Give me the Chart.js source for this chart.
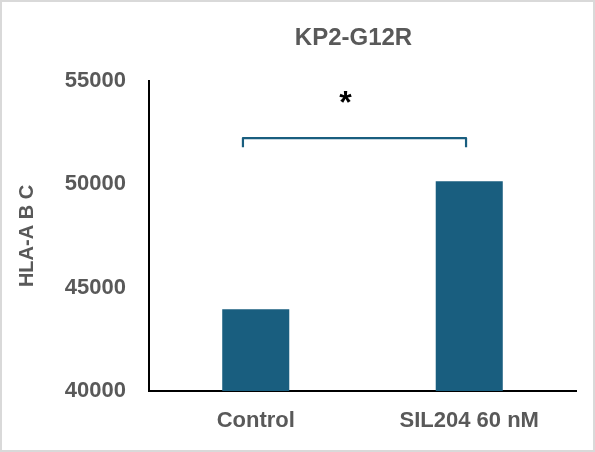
<!DOCTYPE html>
<html>
<head>
<meta charset="utf-8">
<script src="https://cdn.jsdelivr.net/npm/chart.js@4.4.1/dist/chart.umd.min.js"></script>
<style>
  html, body { margin: 0; padding: 0; background: #fff; }
  #chart { display: block; outline: 2px solid #d9d9d9; outline-offset: -2px; }
</style>
</head>
<body>
<canvas id="chart" width="595" height="452"></canvas>
<script>
// data
const categories = ['Control', 'SIL204 60 nM'];
const hlaValues = [43950, 50150];
const yTicks = [40000, 45000, 50000, 55000];
const chartTitle = 'KP2-G12R';

// significance bracket (category index range + level in data units)
const sigFrom = -0.06;
const sigTo = 0.985;
const sigTop = 52240;
const sigBottom = 51800;
const sigLabel = '*';
const sigLabelX = 0.42;
const sigLabelY = 54180;

const grey = '#595959';
const barColor = '#195e7f';
const fontFam = '"Liberation Sans", Arial, sans-serif';

// title (centred over the plot, like the original) + bracket + asterisk
const extrasPlugin = {
    id: 'extras',
    afterDatasetsDraw(chart) {
        const ctx = chart.ctx;
        const x = chart.scales.x;
        const y = chart.scales.y;
        const area = chart.chartArea;
        ctx.save();

        ctx.fillStyle = grey;
        ctx.font = 'bold 24px ' + fontFam;
        ctx.textAlign = 'center';
        ctx.textBaseline = 'middle';
        ctx.fillText(chartTitle, (area.left + area.right) / 2 - 9, 38);

        const x1 = x.getPixelForValue(sigFrom);
        const x2 = x.getPixelForValue(sigTo);
        const yt = y.getPixelForValue(sigTop);
        const yb = y.getPixelForValue(sigBottom);
        ctx.strokeStyle = barColor;
        ctx.lineWidth = 2.2;
        ctx.lineJoin = 'round';
        ctx.beginPath();
        ctx.moveTo(x1, yb);
        ctx.lineTo(x1, yt);
        ctx.lineTo(x2, yt);
        ctx.lineTo(x2, yb);
        ctx.stroke();

        ctx.fillStyle = '#000';
        ctx.font = 'bold 32px ' + fontFam;
        ctx.fillText(sigLabel, x.getPixelForValue(sigLabelX), y.getPixelForValue(sigLabelY) + 6);
        ctx.restore();
    }
};

const ctx = document.getElementById('chart').getContext('2d');
const chart = new Chart(ctx, {
    type: 'bar',
    data: {
        labels: categories,
        datasets: [{
            label: 'HLA-A B C',
            data: hlaValues,
            backgroundColor: barColor,
            borderWidth: 0,
            categoryPercentage: 0.314,
            barPercentage: 1
        }]
    },
    options: {
        responsive: false,
        animation: false,
        layout: { padding: { left: 0, right: 19, top: 81, bottom: 0 } },
        plugins: {
            legend: { display: false },
            tooltip: { enabled: false },
            title: { display: false }
        },
        scales: {
            x: {
                afterFit(scale) { scale.height = 61; },
                grid: { display: false, drawTicks: false },
                border: { display: true, color: '#000', width: 2 },
                ticks: {
                    color: grey,
                    padding: 17,
                    font: { family: fontFam, size: 22, weight: 'bold' }
                }
            },
            y: {
                min: yTicks[0],
                max: yTicks[yTicks.length - 1],
                afterFit(scale) { scale.width = 149; },
                afterBuildTicks(scale) { scale.ticks = yTicks.map(v => ({ value: v })); },
                grid: { display: false, drawTicks: false },
                border: { display: true, color: '#000', width: 2 },
                ticks: {
                    color: grey,
                    padding: 23,
                    callback: v => String(v),
                    font: { family: fontFam, size: 22, weight: 'bold' }
                },
                title: {
                    display: true,
                    text: 'HLA-A B C',
                    color: grey,
                    padding: { top: 15, bottom: 0 },
                    font: { family: fontFam, size: 20, weight: 'bold' }
                }
            }
        }
    },
    plugins: [extrasPlugin]
});
</script>
</body>
</html>
